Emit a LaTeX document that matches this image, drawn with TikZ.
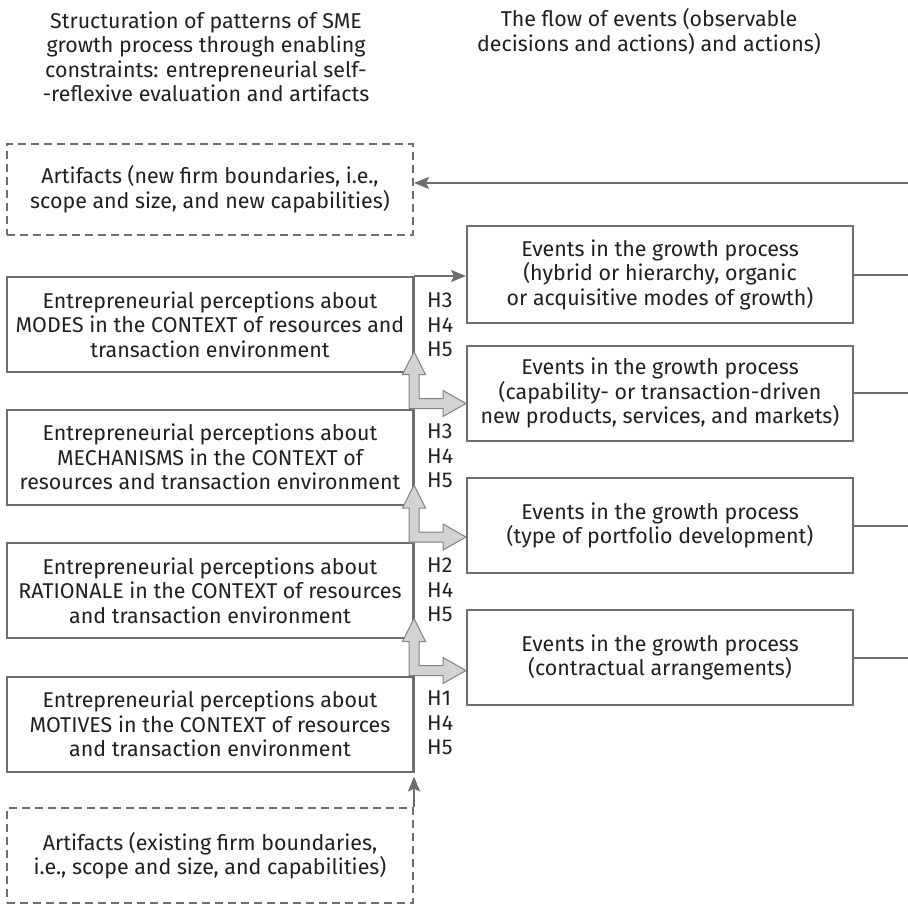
\documentclass[tikz,border=0pt]{standalone}
\usepackage{fontspec}
\setmainfont{Fira Sans}
\usetikzlibrary{arrows.meta,calc}

\definecolor{linegray}{HTML}{6D6E71}
\definecolor{fatfill}{HTML}{D1D3D4}
\definecolor{fatedge}{HTML}{808285}
\definecolor{ink}{HTML}{231F20}

\tikzset{
  txt/.style={font=\fontsize{21.4}{24.5}\selectfont, text=ink, align=center, inner sep=0pt},
  leftbox/.style={txt, draw=linegray, line width=2pt, minimum width=406pt, minimum height=95pt},
  evbox/.style={txt, draw=linegray, line width=2pt, minimum width=386pt, minimum height=95pt},
  artbox/.style={leftbox, dashed, dash pattern=on 8pt off 5pt},
  hyp/.style={txt, align=left, anchor=west},
  conn/.style={draw=linegray, line width=2pt},
  flow/.style={conn, -{Stealth[length=15pt,width=12pt,inset=3pt]}},
  fat/.style={fill=fatfill, draw=fatedge, line width=1pt, line join=miter}
}

% L-shaped block arrow: corner on the top-right of the lower box, one arm up, one arm right
\newcommand{\fatarrow}[1]{%
  \filldraw[fat] (#1) ++(-5,0)
    -- ++(0,-34) -- ++(-6.5,0) -- ++(11.5,-23) -- ++(11.5,23) -- ++(-6.5,0)
    -- ++(0,24) -- ++(24,0) -- ++(0,-8) -- ++(23,13) -- ++(-23,13) -- ++(0,-8)
    -- cycle;
}

\begin{document}
\begin{tikzpicture}[x=1pt,y=-1pt]
\useasboundingbox (0,0) rectangle (908,905);

% column headings
\node[txt] (hdrL) at (206,57) {Structuration of patterns of SME\\growth process through enabling\\constraints: entrepreneurial self-\\-reflexive evaluation and artifacts};
\node[txt] (hdrR) at (649,31.5) {The flow of events (observable\\decisions and actions) and actions)};

% left column: artifacts and entrepreneurial perceptions
\node[artbox, minimum height=91pt] (artTop) at (210,189) {Artifacts (new firm boundaries, i.e.,\\scope and size, and new capabilities)};
\node[leftbox] (modes) at (210,324.5) {Entrepreneurial perceptions about\\MODES in the CONTEXT of resources and\\transaction environment};
\node[leftbox] (mech) at (210,457) {Entrepreneurial perceptions about\\MECHANISMS in the CONTEXT of\\resources and transaction environment};
\node[leftbox] (rat) at (210,590.5) {Entrepreneurial perceptions about\\RATIONALE in the CONTEXT of resources\\and transaction environment};
\node[leftbox] (mot) at (210,724) {Entrepreneurial perceptions about\\MOTIVES in the CONTEXT of resources\\and transaction environment};
\node[artbox] (artBot) at (210,855.5) {Artifacts (existing firm boundaries,\\i.e., scope and size, and capabilities)};

% hypotheses
\node[hyp] (h1) at (427,325) {H3\\H4\\H5};
\node[hyp] (h2) at (427,456) {H3\\H4\\H5};
\node[hyp] (h3) at (427,590) {H2\\H4\\H5};
\node[hyp] (h4) at (427,723) {H1\\H4\\H5};

% right column: events
\node[evbox, minimum height=97pt] (ev1) at (660,274.5) {Events in the growth process\\(hybrid or hierarchy, organic\\or acquisitive modes of growth)};
\node[evbox] (ev2) at (660,393) {Events in the growth process\\(capability- or transaction-driven\\new products, services, and markets)};
\node[evbox] (ev3) at (660,525.5) {Events in the growth process\\(type of portfolio development)};
\node[evbox] (ev4) at (660,657.5) {Events in the growth process\\(contractual arrangements)};

\coordinate (edge) at (908,0);
\coordinate (feedback) at (908,183);

% spine and connectors
\draw[conn] (modes.north east) -- (mot.south east);
\draw[flow] (modes.north east) -- (modes.north east -| ev1.west);
\draw[flow, shorten >=4pt] (artBot.north east) -- (mot.south east);
\draw[flow] (feedback) -- (feedback -| artTop.east);
\foreach \e in {ev1,ev2,ev3,ev4}
  \draw[conn] (\e.east) -- (\e.east -| edge);

% block arrows between perception levels
\fatarrow{mech.north east}
\fatarrow{rat.north east}
\fatarrow{mot.north east}
\end{tikzpicture}
\end{document}
